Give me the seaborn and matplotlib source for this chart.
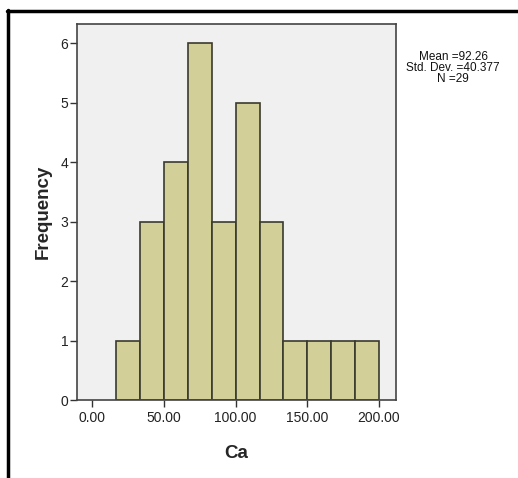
import numpy as np
import pandas as pd
import matplotlib
matplotlib.use("Agg")
import matplotlib.pyplot as plt
from matplotlib.lines import Line2D
import seaborn as sns

# Histogram counts (11 bins, width 200/12)
bin_start = 16.6667
bin_width = 16.6667
counts = [1, 3, 4, 6, 3, 5, 3, 1, 1, 1, 1]
x_ticks = [0, 50, 100, 150, 200]
x_tick_labels = ["0.00", "50.00", "100.00", "150.00", "200.00"]
y_ticks = [0, 1, 2, 3, 4, 5, 6]
stats_text = "Mean =92.26\nStd. Dev. =40.377\nN =29"

edges = [bin_start + bin_width * i for i in range(len(counts) + 1)]
centers = [(edges[i] + edges[i + 1]) / 2 for i in range(len(counts))]
df = pd.DataFrame({"Ca": centers, "n": counts})

sns.set_style("white")
plt.rcParams["font.family"] = ["Liberation Sans", "DejaVu Sans"]

fig = plt.figure(figsize=(5.18, 4.78), dpi=100)
ax = fig.add_axes([0.148, 0.163, 0.616, 0.786])
ax.set_facecolor("#f0f0f0")

sns.histplot(data=df, x="Ca", weights="n", bins=edges, ax=ax,
             color="#d3cf99", edgecolor="#3a3a2e", linewidth=1.2, alpha=1)

ax.set_xlim(-10.9, 211.7)
ax.set_ylim(0, 6.32)
ax.set_xticks(x_ticks)
ax.set_xticklabels(x_tick_labels)
ax.set_yticks(y_ticks)
ax.tick_params(axis="both", direction="out", length=5, width=1,
               colors="#333333", labelcolor="#222222", labelsize=10, pad=1,
               bottom=True, left=True)
ax.tick_params(axis="x", pad=3)
for s in ax.spines.values():
    s.set_color("#444444")
    s.set_linewidth(1.2)

ax.set_xlabel("Ca", fontsize=13.5, fontweight="bold", labelpad=14)
ax.set_ylabel("Frequency", fontsize=13.5, fontweight="bold", labelpad=6)

fig.text(0.875, 0.858, stats_text, ha="center", va="center",
         fontsize=8.5, linespacing=0.9, color="#111111")

# outer frame (top and left borders)
fig.add_artist(Line2D([6.5 / 518, 1.0], [1 - 11 / 478, 1 - 11 / 478],
                      color="black", linewidth=2.5, transform=fig.transFigure))
fig.add_artist(Line2D([7.5 / 518, 7.5 / 518], [0, 1 - 10 / 478],
                      color="black", linewidth=2.5, transform=fig.transFigure))

fig.savefig("out.png", dpi=100, facecolor="white")
